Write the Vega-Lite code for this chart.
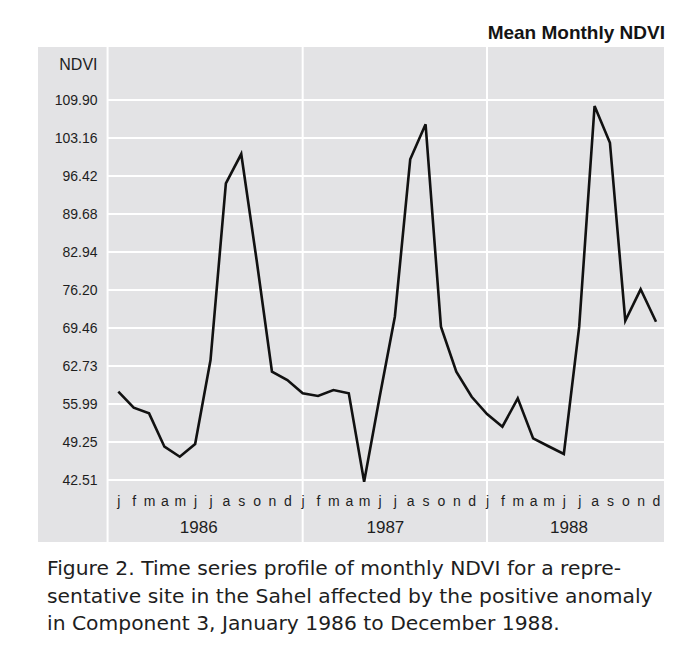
{
  "$schema": "https://vega.github.io/schema/vega-lite/v6.json",
  "background": "white",
  "padding": {"left": 38, "top": 24, "right": 0, "bottom": 0},
  "config": {
    "view": {"stroke": null, "fill": "#e3e3e5"},
    "font": "Liberation Sans"
  },
  "title": {
    "text": [
      "Figure 2. Time series profile of monthly NDVI for a repre-",
      "sentative site in the Sahel affected by the positive anomaly",
      "in Component 3, January 1986 to December 1988."
    ],
    "orient": "bottom",
    "anchor": "start",
    "baseline": "alphabetic",
    "font": "DejaVu Sans",
    "fontSize": 20.3,
    "fontWeight": "normal",
    "color": "#1e1e1e",
    "lineHeight": 27.5,
    "offset": 32,
    "dx": 9
  },
  "vconcat": [
    {
      "width": 626,
      "height": 495,
      "title": {
        "text": "Mean Monthly NDVI",
        "anchor": "end",
        "baseline": "alphabetic",
        "font": "Liberation Sans",
        "fontSize": 19,
        "fontWeight": "bold",
        "color": "#141414",
        "offset": -12
      },
      "resolve": {"axis": {"x": "independent", "y": "independent"}},
      "layer": [
        {
          "data": {"values": [
            {"v": 42.51}, {"v": 49.25}, {"v": 55.99}, {"v": 62.73}, {"v": 69.46},
            {"v": 76.20}, {"v": 82.94}, {"v": 89.68}, {"v": 96.42}, {"v": 103.16}, {"v": 109.90}
          ]},
          "mark": {"type": "rule", "color": "white", "strokeWidth": 2},
          "encoding": {
            "y": {"field": "v", "type": "quantitative", "axis": null,
                  "scale": {"domain": [31.52, 119.30], "nice": false, "zero": false}},
            "x": {"datum": -0.7, "type": "quantitative", "axis": null,
                  "scale": {"domain": [-5.23, 35.52], "nice": false, "zero": false}},
            "x2": {"datum": 35.52}
          }
        },
        {
          "data": {"values": [{"b": -0.7}, {"b": 12}, {"b": 24}]},
          "mark": {"type": "rule", "color": "white", "strokeWidth": 2},
          "encoding": {
            "x": {"field": "b", "type": "quantitative",
                  "axis": {
                    "orient": "bottom",
                    "values": [5.2, 17.35, 29.3],
                    "labelExpr": "datum.value < 10 ? '1986' : datum.value < 20 ? '1987' : '1988'",
                    "offset": -10,
                    "ticks": false,
                    "tickSize": 0,
                    "domain": false,
                    "grid": false,
                    "labelPadding": 0,
                    "labelBaseline": "alphabetic",
                    "labelFontSize": 17,
                    "labelColor": "#1e1e1e",
                    "labelFont": "Liberation Sans",
                    "labelOverlap": false,
                    "title": null,
                    "zindex": 2
                  }}
          }
        },
        {
          "data": {"values": [
            {"t": 0, "year": 1986, "month": "j", "ndvi": 58.17},
            {"t": 1, "year": 1986, "month": "f", "ndvi": 55.33},
            {"t": 2, "year": 1986, "month": "m", "ndvi": 54.33},
            {"t": 3, "year": 1986, "month": "a", "ndvi": 48.42},
            {"t": 4, "year": 1986, "month": "m", "ndvi": 46.64},
            {"t": 5, "year": 1986, "month": "j", "ndvi": 48.89},
            {"t": 6, "year": 1986, "month": "j", "ndvi": 63.79},
            {"t": 7, "year": 1986, "month": "a", "ndvi": 95.12},
            {"t": 8, "year": 1986, "month": "s", "ndvi": 100.32},
            {"t": 9, "year": 1986, "month": "o", "ndvi": 81.52},
            {"t": 10, "year": 1986, "month": "n", "ndvi": 61.72},
            {"t": 11, "year": 1986, "month": "d", "ndvi": 60.24},
            {"t": 12, "year": 1987, "month": "j", "ndvi": 57.88},
            {"t": 13, "year": 1987, "month": "f", "ndvi": 57.41},
            {"t": 14, "year": 1987, "month": "m", "ndvi": 58.47},
            {"t": 15, "year": 1987, "month": "a", "ndvi": 57.88},
            {"t": 16, "year": 1987, "month": "m", "ndvi": 42.2},
            {"t": 17, "year": 1987, "month": "j", "ndvi": 57.1},
            {"t": 18, "year": 1987, "month": "j", "ndvi": 71.47},
            {"t": 19, "year": 1987, "month": "a", "ndvi": 99.38},
            {"t": 20, "year": 1987, "month": "s", "ndvi": 105.59},
            {"t": 21, "year": 1987, "month": "o", "ndvi": 69.7},
            {"t": 22, "year": 1987, "month": "n", "ndvi": 61.72},
            {"t": 23, "year": 1987, "month": "d", "ndvi": 57.28},
            {"t": 24, "year": 1988, "month": "j", "ndvi": 54.2},
            {"t": 25, "year": 1988, "month": "f", "ndvi": 51.96},
            {"t": 26, "year": 1988, "month": "m", "ndvi": 57.0},
            {"t": 27, "year": 1988, "month": "a", "ndvi": 49.9},
            {"t": 28, "year": 1988, "month": "m", "ndvi": 48.5},
            {"t": 29, "year": 1988, "month": "j", "ndvi": 47.12},
            {"t": 30, "year": 1988, "month": "j", "ndvi": 69.7},
            {"t": 31, "year": 1988, "month": "a", "ndvi": 108.83},
            {"t": 32, "year": 1988, "month": "s", "ndvi": 102.33},
            {"t": 33, "year": 1988, "month": "o", "ndvi": 70.76},
            {"t": 34, "year": 1988, "month": "n", "ndvi": 76.33},
            {"t": 35, "year": 1988, "month": "d", "ndvi": 70.58}
          ]},
          "mark": {"type": "line", "color": "#111111", "strokeWidth": 2.6, "strokeJoin": "miter"},
          "encoding": {
            "x": {"field": "t", "type": "quantitative",
                  "axis": {
                    "orient": "bottom",
                    "values": [0,1,2,3,4,5,6,7,8,9,10,11,12,13,14,15,16,17,18,19,20,21,22,23,24,25,26,27,28,29,30,31,32,33,34,35],
                    "labelExpr": "substring('jfmamjjasond', datum.value % 12, datum.value % 12 + 1)",
                    "offset": -37,
                    "ticks": false,
                    "tickSize": 0,
                    "domain": false,
                    "grid": false,
                    "labelPadding": 0,
                    "labelBaseline": "alphabetic",
                    "labelFontSize": 14,
                    "labelColor": "#1e1e1e",
                    "labelFont": "Liberation Sans",
                    "labelOverlap": false,
                    "labelFlush": false,
                    "title": null,
                    "zindex": 2
                  }},
            "y": {"field": "ndvi", "type": "quantitative",
                  "axis": {
                    "orient": "left",
                    "values": [42.51, 49.25, 55.99, 62.73, 69.46, 76.20, 82.94, 89.68, 96.42, 103.16, 109.90, 116.11],
                    "labelExpr": "datum.value > 115 ? 'NDVI' : format(datum.value, '.2f')",
                    "labelFontSize": {"condition": {"test": "datum.value > 115", "value": 16}, "value": 14},
                    "offset": -59,
                    "ticks": false,
                    "tickSize": 0,
                    "domain": false,
                    "grid": false,
                    "labelPadding": 0,
                    "labelBaseline": "middle",
                    "labelColor": "#1e1e1e",
                    "labelFont": "Liberation Sans",
                    "labelOverlap": false,
                    "labelFlush": false,
                    "title": null,
                    "zindex": 2
                  }}
          }
        }
      ]
    }
  ]
}
